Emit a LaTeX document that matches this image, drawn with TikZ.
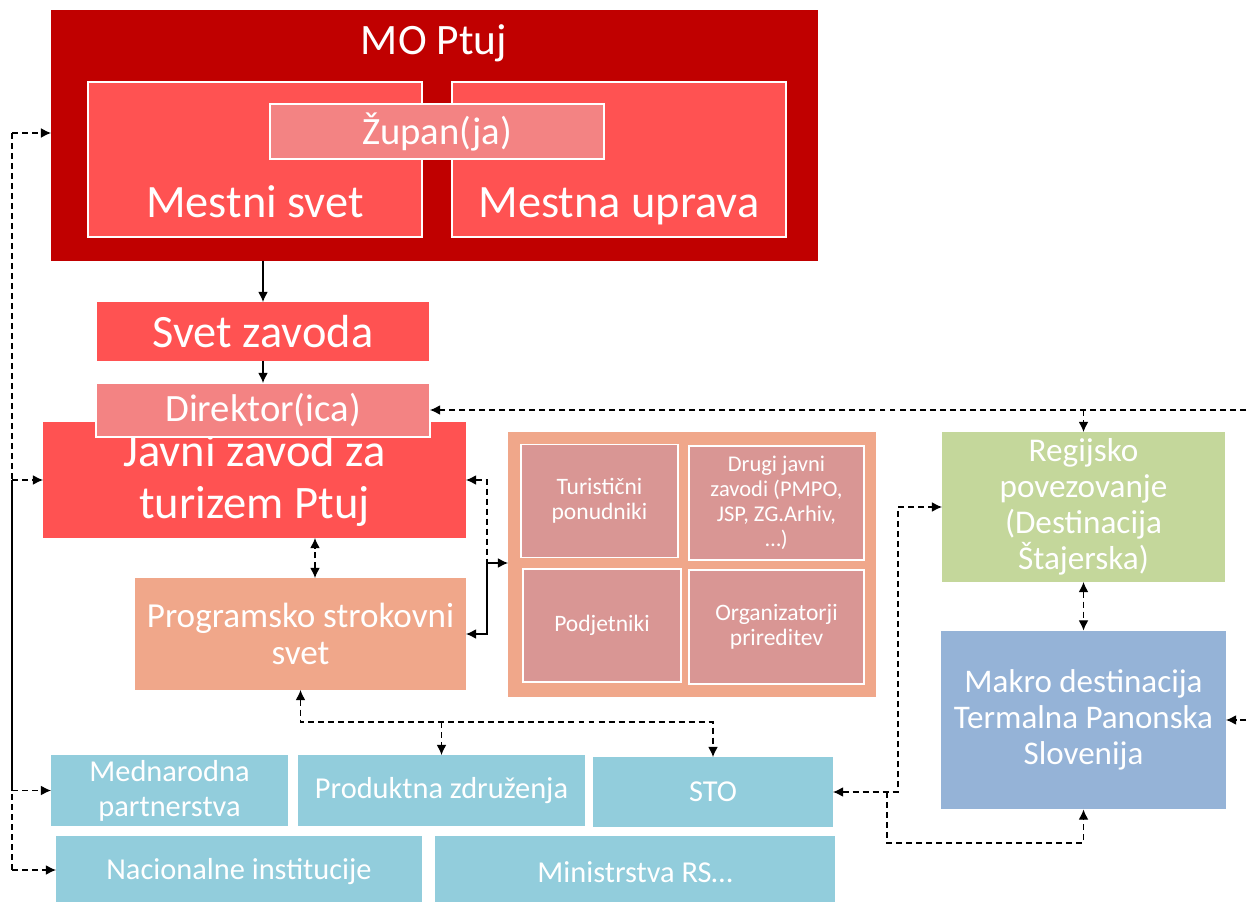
\documentclass[tikz,border=0pt]{standalone}
\usepackage{fontspec}
\setmainfont{Carlito}
\usetikzlibrary{arrows.meta}
\definecolor{moRed}{HTML}{C00000}
\definecolor{zRed}{HTML}{FF5252}
\definecolor{zPink}{HTML}{F38383}
\definecolor{zSalmon}{HTML}{F0A78A}
\definecolor{zRose}{HTML}{D99694}
\definecolor{zGreen}{HTML}{C4D79B}
\definecolor{zBlue}{HTML}{95B3D7}
\definecolor{zCyan}{HTML}{92CDDC}
\newcommand{\fsz}[2]{\fontsize{#1}{#2}\selectfont}
\begin{document}
\begin{tikzpicture}[x=0.02cm,y=-0.02cm,
  blk/.style={inner sep=0pt,outer sep=0pt,text=white,align=center},
  frm/.style={blk,draw=white,line width=0.7pt},
  dsh/.style={dash pattern=on 3.4pt off 2.3pt,line width=0.7pt},
  sol/.style={line width=0.7pt},
  >={Latex[length=5.8pt,width=5.6pt]}]
\useasboundingbox (0,0) rectangle (1250,902);
\node[blk,fill=moRed,minimum width=15.34cm,minimum height=5.02cm] (mo) at (434.5,135.5) {};
\node[blk,font=\fsz{24.7}{30},anchor=base] (moname) at (434,55) {MO Ptuj};
\node[frm,fill=zRed,minimum width=6.68cm,minimum height=3.1cm] (msvet) at (255,159.5) {};
\node[frm,fill=zRed,minimum width=6.68cm,minimum height=3.1cm] (muprava) at (619,159.5) {};
\node[blk,font=\fsz{26.4}{32},anchor=base] (msvettxt) at (255,217) {Mestni svet};
\node[blk,font=\fsz{26.4}{32},anchor=base] (mupravatxt) at (619,217) {Mestna uprava};
\node[frm,fill=zPink,minimum width=6.68cm,minimum height=1.1cm,font=\fsz{22}{26}] (zupan) at (437,131.5) {Župan(ja)};
\node[blk,fill=zRed,minimum width=6.64cm,minimum height=1.18cm,font=\fsz{26.4}{31}] (svetz) at (263,331.5) {Svet zavoda};
\node[blk,fill=zRed,minimum width=8.46cm,minimum height=2.32cm,font=\fsz{26.5}{29.5}] (javni) at (254.5,480) {Javni zavod za\\turizem Ptuj};
\node[frm,fill=zPink,minimum width=6.68cm,minimum height=1.08cm,font=\fsz{22}{26}] (direktor) at (263,410) {Direktor(ica)};
\node[blk,fill=zSalmon,minimum width=6.62cm,minimum height=2.24cm,font=\fsz{20}{21.5}] (prog) at (300.5,634) {Programsko strokovni\\svet};
\node[blk,fill=zSalmon,minimum width=7.36cm,minimum height=5.3cm] (group) at (692,564.5) {};
\node[frm,fill=zRose,minimum width=3.14cm,minimum height=2.26cm,font=\fsz{13.4}{14.2}] (tur) at (599.5,501) {Turistični\\ponudniki};
\node[frm,fill=zRose,minimum width=3.5cm,minimum height=2.28cm,font=\fsz{12.8}{14.2}] (drugi) at (776.5,503) {Drugi javni\\zavodi (PMPO,\\JSP, ZG.Arhiv,\\…)};
\node[frm,fill=zRose,minimum width=3.16cm,minimum height=2.26cm,font=\fsz{13.4}{14.2}] (podj) at (602,625.5) {Podjetniki};
\node[frm,fill=zRose,minimum width=3.5cm,minimum height=2.28cm,font=\fsz{13.4}{14.2}] (org) at (776.5,627) {Organizatorji\\prireditev};
\node[blk,fill=zGreen,minimum width=5.66cm,minimum height=3cm,font=\fsz{18.9}{20.6}] (reg) at (1083.5,507) {Regijsko\\povezovanje\\(Destinacija\\Štajerska)};
\node[blk,fill=zBlue,minimum width=5.7cm,minimum height=3.58cm,font=\fsz{18.8}{20.6}] (makro) at (1083.5,720) {Makro destinacija\\Termalna Panonska\\Slovenija};
\node[blk,fill=zCyan,minimum width=4.74cm,minimum height=1.42cm,font=\fsz{17.3}{19.8}] (medn) at (169.5,790.5) {Mednarodna\\partnerstva};
\node[blk,fill=zCyan,minimum width=5.74cm,minimum height=1.42cm,font=\fsz{17.3}{19.8}] (prod) at (441.5,790.5) {Produktna združenja};
\node[blk,fill=zCyan,minimum width=4.8cm,minimum height=1.4cm,font=\fsz{17.3}{19.8}] (sto) at (713,792) {STO};
\node[blk,fill=zCyan,minimum width=7.32cm,minimum height=1.44cm,font=\fsz{17.3}{19.8}] (nac) at (239,872) {Nacionalne institucije};
\node[blk,fill=zCyan,minimum width=8cm,minimum height=1.44cm,font=\fsz{17.3}{19.8}] (mins) at (635,872) {Ministrstva RS…};
\coordinate (ltop) at (12,133);
\coordinate (lbot) at (12,870);
\coordinate (rtop) at (1256,410);
\coordinate (j1) at (487,563);
\coordinate (j2) at (300.5,722);
\coordinate (s1) at (898,792);
\coordinate (s2) at (887,792);
\coordinate (s3) at (887,843);
\draw[sol,->] (svetz.north |- mo.south) -- (svetz.north);
\draw[sol,->] (svetz.south) -- (direktor.north);
\draw[dsh] (ltop) -- (lbot);
\draw[dsh,->] (ltop) -- (mo.west |- ltop);
\draw[dsh,->] (ltop |- javni.west) -- (javni.west);
\draw[dsh,->] (ltop |- medn.west) -- (medn.west);
\draw[dsh,->] (lbot) -- (nac.west |- lbot);
\draw[sol] (ltop |- javni.west) -- (ltop |- medn.west);
\draw[dsh,->] (rtop) -- (direktor.east);
\draw[dsh,->] (reg.north |- rtop) -- (reg.north);
\draw[dsh] (rtop) -- (rtop |- makro.east);
\draw[dsh,->] (rtop |- makro.east) -- (makro.east);
\draw[dsh,<->] (reg.south) -- (makro.north);
\draw[dsh,<-] (javni.east) -| (j1);
\draw[sol,->] (j1) -- (group.west |- j1);
\draw[sol,->] (j1) |- (prog.east);
\draw[dsh,<->] ([xshift=0.29cm]prog.north) -- ([xshift=0.29cm]prog.north |- javni.south);
\draw[dsh,<->] (prog.south) -- (j2) -| (sto.north);
\draw[dsh,->] (j2 -| prod.north) -- (prod.north);
\draw[dsh,<->] (sto.east) -- (s1) |- (reg.west);
\draw[dsh,->] (s2) -- (s3) -| (makro.south);
\end{tikzpicture}
\end{document}
